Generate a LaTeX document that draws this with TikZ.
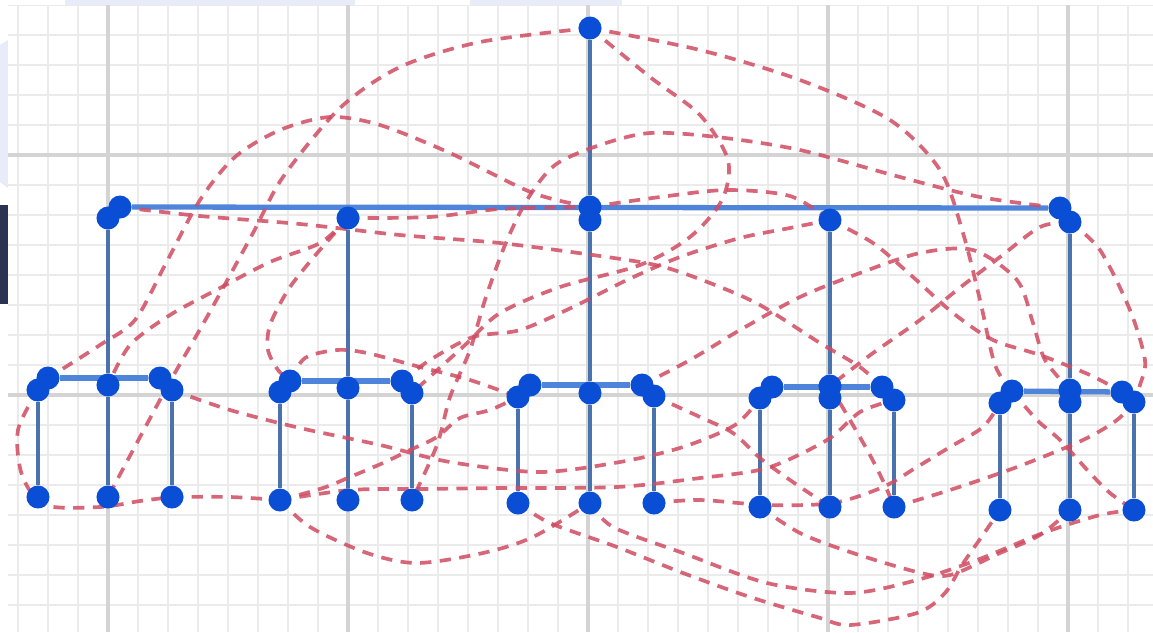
\documentclass[tikz,border=0pt]{standalone}
\usetikzlibrary{backgrounds}

\definecolor{bleupoint}{RGB}{10,78,214}
\definecolor{bleubarre}{RGB}{78,132,218}
\definecolor{bleutige}{RGB}{74,114,172}
\definecolor{rougelien}{RGB}{208,76,98}
\definecolor{lavande}{RGB}{232,236,248}
\definecolor{marine}{RGB}{44,50,82}

\tikzset{
  point/.style={circle, fill=bleupoint, inner sep=0pt, minimum size=0.23cm},
  barre/.style={bleubarre, line width=1.5pt},
  tige/.style={bleutige, line width=1.4pt},
  lien/.style={rougelien, opacity=0.85, line width=1.05pt, dash pattern=on 3.2pt off 2.4pt},
  grillefine/.style={black!8, line width=0.5pt},
  grillemaj/.style={black!17, line width=0.9pt}
}

\begin{document}
\begin{tikzpicture}[x=0.01cm, y=-0.01cm]
    \useasboundingbox (0,0) rectangle (1153,632);

    % Racine
    \node[point] (r) at (590,28) {};

    % Niveau 1
    \node[point] (la1) at (120,207) {};
    \node[point] (la2) at (108,218) {};
    \node[point] (lb) at (348,218) {};
    \node[point] (lc1) at (590,207) {};
    \node[point] (lc2) at (590,220) {};
    \node[point] (ld) at (830,220) {};
    \node[point] (le1) at (1060,208) {};
    \node[point] (le2) at (1070,222) {};

    % Groupe a
    \node[point] (aL1) at (48,378) {};
    \node[point] (aL2) at (38,390) {};
    \node[point] (aM) at (108,385) {};
    \node[point] (aR1) at (160,378) {};
    \node[point] (aR2) at (172,390) {};
    \node[point] (aLb) at (38,497) {};
    \node[point] (aMb) at (108,497) {};
    \node[point] (aRb) at (172,497) {};

    % Groupe b
    \node[point] (bL1) at (290,381) {};
    \node[point] (bL2) at (280,392) {};
    \node[point] (bM) at (348,388) {};
    \node[point] (bR1) at (402,381) {};
    \node[point] (bR2) at (412,393) {};
    \node[point] (bLb) at (280,500) {};
    \node[point] (bMb) at (348,500) {};
    \node[point] (bRb) at (412,500) {};

    % Groupe c
    \node[point] (cL1) at (530,385) {};
    \node[point] (cL2) at (518,397) {};
    \node[point] (cM) at (590,393) {};
    \node[point] (cR1) at (642,385) {};
    \node[point] (cR2) at (654,396) {};
    \node[point] (cLb) at (518,503) {};
    \node[point] (cMb) at (590,503) {};
    \node[point] (cRb) at (654,503) {};

    % Groupe d
    \node[point] (dL1) at (772,387) {};
    \node[point] (dL2) at (760,398) {};
    \node[point] (dM1) at (830,386) {};
    \node[point] (dM2) at (830,398) {};
    \node[point] (dR1) at (882,387) {};
    \node[point] (dR2) at (894,400) {};
    \node[point] (dLb) at (760,507) {};
    \node[point] (dMb) at (830,507) {};
    \node[point] (dRb) at (894,507) {};

    % Groupe e
    \node[point] (eL1) at (1012,391) {};
    \node[point] (eL2) at (1000,403) {};
    \node[point] (eM1) at (1070,390) {};
    \node[point] (eM2) at (1070,402) {};
    \node[point] (eR1) at (1122,392) {};
    \node[point] (eR2) at (1134,402) {};
    \node[point] (eLb) at (1000,510) {};
    \node[point] (eMb) at (1070,510) {};
    \node[point] (eRb) at (1134,510) {};

    \begin{scope}[on background layer]
    % Fond
    \fill[white] (0,0) rectangle (1153,632);
    \fill[lavande] (65,0) rectangle (355,5);
    \fill[lavande] (470,0) rectangle (622,5);
    \fill[lavande] (0,45) -- (8,40) -- (8,188) -- (0,182) -- cycle;
    \fill[marine] (0,205) rectangle (8,304);

    % Grille
    \begin{scope}
    \clip (8,5) rectangle (1153,632);
    \foreach \x in {18,48,...,1153} \draw[grillefine] (\x,5) -- (\x,632);
    \foreach \y in {5,35,...,632} \draw[grillefine] (8,\y) -- (1153,\y);
    \foreach \x in {108,348,588,828,1068} \draw[grillemaj] (\x,5) -- (\x,632);
    \foreach \y in {155,395} \draw[grillemaj] (8,\y) -- (1153,\y);
    \end{scope}

    % Arbre
    \draw[tige] (r) -- (lc1);
    \draw[barre] (la1) -- (le1);
    \draw[tige] (la2) -- (aM);
    \draw[tige] (lb) -- (bM);
    \draw[tige] (lc2) -- (cM);
    \draw[tige] (ld) -- (dM1);
    \draw[tige] (le2) -- (eM1);
    \draw[barre] (aL1) -- (aR1);
    \draw[barre] (bL1) -- (bR1);
    \draw[barre] (cL1) -- (cR1);
    \draw[barre] (dL1) -- (dR1);
    \draw[barre] (eL1) -- (eR1);
    \draw[tige] (aL2) -- (aLb);
    \draw[tige] (aM) -- (aMb);
    \draw[tige] (aR2) -- (aRb);
    \draw[tige] (bL2) -- (bLb);
    \draw[tige] (bM) -- (bMb);
    \draw[tige] (bR2) -- (bRb);
    \draw[tige] (cL2) -- (cLb);
    \draw[tige] (cM) -- (cMb);
    \draw[tige] (cR2) -- (cRb);
    \draw[tige] (dL2) -- (dLb);
    \draw[tige] (dM2) -- (dMb);
    \draw[tige] (dR2) -- (dRb);
    \draw[tige] (eL2) -- (eLb);
    \draw[tige] (eM2) -- (eMb);
    \draw[tige] (eR2) -- (eRb);

    % Liens
    \draw[lien] plot[smooth] coordinates {(r.center) (480,42) (400,67) (340,108) (283,177) (253,233) (207,317) (167,387) (aMb.center)};
    \draw[lien] plot[smooth] coordinates {(r.center) (700,50) (800,80) (890,120) (940,170) (963,233) (980,300) (995,365) (eL1.center)};
    \draw[lien] plot[smooth] coordinates {(r.center) (650,77) (700,115) (728,160) (722,200) (690,237) (640,265) (560,287) (500,313) (465,345) (bR2.center)};
    \draw[lien] plot[smooth] coordinates {(lc1.center) (533,193) (450,153) (380,125) (330,117) (280,130) (235,157) (200,200) (165,265) (135,320) (100,345) (aL1.center)};
    \draw[lien] plot[smooth] coordinates {(le1.center) (980,197) (900,177) (800,150) (717,137) (650,133) (600,145) (555,165) (527,200) (505,245) (485,300) (470,350) (450,397) (437,445) (bRb.center)};
    \draw[lien] plot[smooth] coordinates {(la1.center) (200,216) (300,224) (400,235) (500,243) (600,256) (660,266) (710,283) (760,305) (820,343) (860,367) (dR1.center)};
    \draw[lien] plot[smooth] coordinates {(lb.center) (430,217) (500,209) (lc1.center)};
    \draw[lien] plot[smooth] coordinates {(lc1.center) (660,197) (727,190) (790,196) (ld.center)};
    \draw[lien] plot[smooth] coordinates {(ld.center) (873,243) (913,277) (953,313) (993,340) (1040,355) (1090,375) (eR1.center)};
    \draw[lien] plot[smooth] coordinates {(le2.center) (1040,227) (1000,257) (957,290) (920,320) (873,353) (dM1.center)};
    \draw[lien] plot[smooth] coordinates {(cR1.center) (690,360) (740,330) (800,297) (860,273) (920,253) (973,250) (1017,280) (1033,323) (1045,360) (eM1.center)};
    \draw[lien] plot[smooth] coordinates {(lb.center) (320,243) (270,262) (220,288) (170,315) (130,345) (aM.center)};
    \draw[lien] plot[smooth] coordinates {(lb.center) (313,258) (288,290) (270,325) (268,350) (278,370) (bL1.center)};
    \draw[lien] plot[smooth] coordinates {(bL1.center) (305,358) (337,350) (367,353) (420,367) (470,380) (cL2.center)};
    \draw[lien] plot[smooth] coordinates {(bR1.center) (430,360) (473,337) (520,330) (573,307) (627,280) (680,257) (740,238) (790,228) (ld.center)};
    \draw[lien] plot[smooth] coordinates {(aR2.center) (230,410) (300,428) (380,445) (450,462) (540,472) (620,462) (683,447) (735,425) (dL2.center)};
    \draw[lien] plot[smooth] coordinates {(aL2.center) (18,430) (22,475) (45,505) (100,507) (140,501) (aRb.center)};
    \draw[lien] plot[smooth] coordinates {(aRb.center) (230,497) (bLb.center)};
    \draw[lien] plot[smooth] coordinates {(bLb.center) (350,490) (420,489) (500,488) (617,487) (700,478) (767,468) (827,440) (860,412) (dR2.center)};
    \draw[lien] plot[smooth] coordinates {(bLb.center) (323,488) (350,477) (383,463) (410,450) (437,437) (460,418) (490,410) (cL2.center)};
    \draw[lien] plot[smooth] coordinates {(bLb.center) (310,527) (367,553) (417,563) (483,553) (533,537) (cMb.center)};
    \draw[lien] plot[smooth] coordinates {(cLb.center) (550,523) (617,547) (683,573) (750,597) (817,617) (850,625) (917,613) (945,593) (962,565) (985,532) (eLb.center)};
    \draw[lien] plot[smooth] coordinates {(cMb.center) (613,527) (683,553) (767,583) (850,593) (917,580) (977,560) (1043,533) (1100,515) (eRb.center)};
    \draw[lien] plot[smooth] coordinates {(dLb.center) (800,533) (850,552) (917,572) (950,575) (1000,553) (1040,535) (eMb.center)};
    \draw[lien] plot[smooth] coordinates {(dRb.center) (950,490) (1017,467) (1083,440) (1117,420) (eR2.center)};
    \draw[lien] plot[smooth] coordinates {(cRb.center) (700,500) (767,505) (833,503) (883,487) (917,467) (950,447) (983,427) (eL2.center)};
    \draw[lien] plot[smooth] coordinates {(dM1.center) (850,420) (870,455) (885,485) (dRb.center)};
    \draw[lien] plot[smooth] coordinates {(eL1.center) (1037,420) (1060,440) (1090,473) (1110,493) (eRb.center)};
    \draw[lien] plot[smooth] coordinates {(le2.center) (1100,250) (1130,310) (1145,360) (1140,385) (eR2.center)};
    \draw[lien] plot[smooth] coordinates {(cR2.center) (700,417) (733,433) (760,458) (790,480) (dMb.center)};
    \end{scope}
\end{tikzpicture}
\end{document}
